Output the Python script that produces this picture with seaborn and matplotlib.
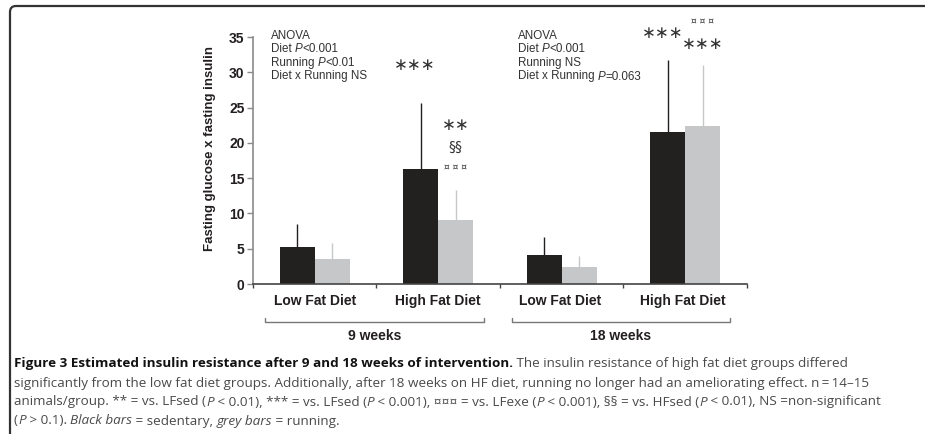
import numpy as np
import pandas as pd
import matplotlib
matplotlib.use("Agg")
import matplotlib.pyplot as plt
import matplotlib.transforms as mtransforms
from matplotlib import font_manager
from matplotlib.patches import FancyBboxPatch
import seaborn as sns

# data
groups = ["Low Fat Diet", "High Fat Diet", "Low Fat Diet ", "High Fat Diet "]
sed_mean = [5.2, 16.3, 4.05, 21.5]
sed_sd = [3.25, 9.3, 2.55, 10.3]
run_mean = [3.5, 9.0, 2.4, 22.4]
run_sd = [2.25, 4.3, 1.6, 8.7]
periods = ["9 weeks", "18 weeks"]

df = pd.DataFrame({
    "group": groups * 2,
    "treat": ["sed"] * 4 + ["run"] * 4,
    "value": sed_mean + run_mean,
})

black = "#231f20"
grey = "#c6c7c9"
txt = "#231f20"

sns.set_style("ticks")
plt.rcParams["font.family"] = ["Liberation Sans", "DejaVu Sans"]

have = {f.name for f in font_manager.fontManager.ttflist}
cap_font = "Liberation Sans Narrow" if "Liberation Sans Narrow" in have else "Open Sans"

fig = plt.figure(figsize=(9.25, 4.34), dpi=100)
ax = fig.add_axes([0.2735, 0.3456, 0.534, 0.5691])

sns.barplot(data=df, x="group", y="value", hue="treat", order=groups,
            hue_order=["sed", "run"], palette=[black, grey], width=0.57,
            errorbar=None, linewidth=0, legend=False, ax=ax)

# upper-only error bars from the bar centres
bars = ax.patches
for i, (m, s, c) in enumerate(zip(sed_mean + run_mean, sed_sd + run_sd,
                                  [black] * 4 + [grey] * 4)):
    p = bars[i]
    xc = p.get_x() + p.get_width() / 2
    ax.errorbar([xc], [m], yerr=[[0], [s]], fmt="none", ecolor=c,
                elinewidth=1.0, capsize=0, zorder=1)

ax.set_ylim(0, 35)
ax.set_xlim(-0.5, 3.5)
ax.set_yticks(range(0, 36, 5))
ax.set_ylabel("Fasting glucose x fasting insulin", fontsize=9.5,
              fontweight="bold", color=txt)
ax.yaxis.set_label_coords(-0.074, 0.549)
ax.set_xlabel("")
ax.set_xticks([-0.5, 0.5, 1.5, 2.5, 3.5], minor=True)
ax.tick_params(axis="x", which="major", length=0, pad=7, labelsize=10,
               labelcolor=txt)
ax.tick_params(axis="x", which="minor", length=3, width=1, color="#444")
ax.tick_params(axis="y", length=4, width=1, color="#8a8a8a", pad=2,
               labelsize=10, labelcolor=txt)
for lab in ax.get_xticklabels() + ax.get_yticklabels():
    lab.set_fontweight("bold")
sns.despine(ax=ax)
ax.spines["left"].set_color("#8a8a8a")
ax.spines["bottom"].set_color("#444")
ax.spines["left"].set_linewidth(1.2)
ax.spines["bottom"].set_linewidth(1.2)

# ANOVA notes
def anova(x, lines):
    for k, runs in enumerate(lines):
        xx = x
        for s, style in runs:
            t = fig.text(xx, 1 - (30 + 13.5 * k) / 434, s, fontsize=8.4,
                         fontstyle=style, color="#333", va="top",
                         family=["Liberation Sans", "DejaVu Sans"])
            bb = t.get_window_extent(renderer=fig.canvas.get_renderer())
            xx += bb.width / fig.bbox.width

anova(271 / 925, [[("ANOVA", "normal")],
                  [("Diet ", "normal"), ("P", "italic"), ("<0.001", "normal")],
                  [("Running ", "normal"), ("P", "italic"), ("<0.01", "normal")],
                  [("Diet x Running NS", "normal")]])
anova(518 / 925, [[("ANOVA", "normal")],
                  [("Diet ", "normal"), ("P", "italic"), ("<0.001", "normal")],
                  [("Running NS", "normal")],
                  [("Diet x Running ", "normal"), ("P", "italic"),
                   ("=0.063", "normal")]])

# significance marks
def mark(i, y, s, size, dx=0.0):
    p = bars[i]
    xc = p.get_x() + p.get_width() / 2 + dx
    ax.text(xc, y, s, ha="center", va="center", fontsize=size, color="#333",
            clip_on=False, family=["DejaVu Sans"])

mark(1, 31.0, "\u2217\u2217\u2217", 12, -0.05)
mark(5, 22.5, "\u2217\u2217", 12)
mark(5, 19.4, "\u00a7\u00a7", 10)
mark(5, 16.5, "\u00a4 \u00a4 \u00a4", 6.5)
mark(3, 35.6, "\u2217\u2217\u2217", 12, -0.04)
mark(7, 37.2, "\u00a4 \u00a4 \u00a4", 6.5)
mark(7, 34.0, "\u2217\u2217\u2217", 12)

# period brackets under the categories
tr = mtransforms.blended_transform_factory(ax.transData, ax.transAxes)
for (x0, x1), lab in zip([(-0.40, 1.37), (1.595, 3.36)], periods):
    ax.plot([x0, x0, x1, x1], [-0.137, -0.153, -0.153, -0.137], color="#777",
            lw=1, transform=tr, clip_on=False)
    ax.text((x0 + x1) / 2, -0.211, lab, transform=tr, ha="center", va="center",
            fontsize=10, fontweight="bold", color=txt)

# frame around the panel
frame = FancyBboxPatch((10, -30), 1000, 434 - 6 + 30,
                       boxstyle="round,pad=0,rounding_size=6", fill=False,
                       lw=1.6, edgecolor="#333",
                       transform=mtransforms.IdentityTransform())
fig.add_artist(frame)

# caption
caption = [
    [("Figure 3 Estimated insulin resistance after 9 and 18 weeks of intervention.", "bold"),
     (" The insulin resistance of high fat diet groups differed", "normal")],
    [("significantly from the low fat diet groups. Additionally, after 18 weeks on HF diet, "
      "running no longer had an ameliorating effect. n\u2009=\u200914\u201315", "normal")],
    [("animals/group. ** = vs. LFsed (", "normal"), ("P", "italic"),
     (" < 0.01), *** = vs. LFsed (", "normal"), ("P", "italic"),
     (" < 0.001), \u00a4\u00a4\u00a4 = vs. LFexe (", "normal"), ("P", "italic"),
     (" < 0.001), \u00a7\u00a7 = vs. HFsed (", "normal"), ("P", "italic"),
     (" < 0.01), NS =non-significant", "normal")],
    [("(", "normal"), ("P", "italic"), (" > 0.1). ", "normal"),
     ("Black bars", "italic"), (" = sedentary, ", "normal"),
     ("grey bars", "italic"), (" = running.", "normal")],
]
r = fig.canvas.get_renderer()
for k, runs in enumerate(caption):
    xx = 14 / 925
    for s, style in runs:
        t = fig.text(xx, 1 - (364 + 19 * k) / 434, s, fontsize=9.7,
                     family=[cap_font, "DejaVu Sans"],
                     fontweight="bold" if style == "bold" else "normal",
                     fontstyle="italic" if style == "italic" else "normal",
                     color="#111" if style == "bold" else "#4a4a4a", va="center")
        xx += t.get_window_extent(renderer=r).width / fig.bbox.width

fig.savefig("out.png", dpi=100)
